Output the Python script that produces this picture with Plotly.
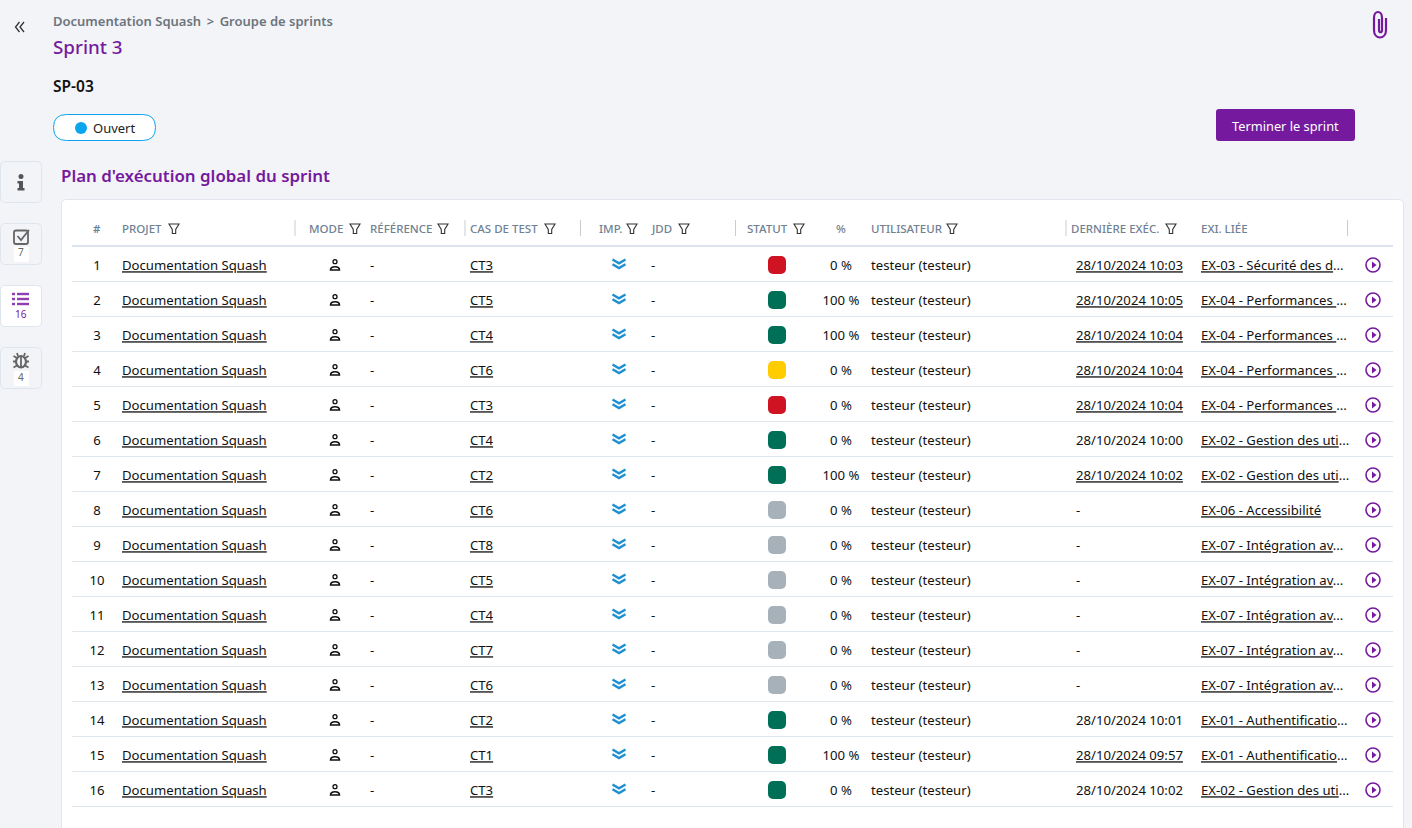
import plotly.graph_objects as go

# ---------- data ----------
ROW_NUMBERS = list(range(1, 17))
PROJECTS = ["Documentation Squash"] * 16
REFERENCES = ["-"] * 16
CASES = ["CT3", "CT5", "CT4", "CT6", "CT3", "CT4", "CT2", "CT6", "CT8", "CT5", "CT4", "CT7", "CT6", "CT2", "CT1", "CT3"]
DATASETS = ["-"] * 16
STATUSES = ["ko", "ok", "ok", "blocked", "ko", "ok", "ok", "todo", "todo", "todo", "todo", "todo", "todo", "ok", "ok", "ok"]
PERCENTS = [0, 100, 100, 0, 0, 0, 100, 0, 0, 0, 0, 0, 0, 0, 100, 0]
USERS = ["testeur (testeur)"] * 16
DATES = ["28/10/2024 10:03", "28/10/2024 10:05", "28/10/2024 10:04", "28/10/2024 10:04", "28/10/2024 10:04",
         "28/10/2024 10:00", "28/10/2024 10:02", "-", "-", "-", "-", "-", "-",
         "28/10/2024 10:01", "28/10/2024 09:57", "28/10/2024 10:02"]
DATE_LINKED = [1, 1, 1, 1, 1, 0, 1, 0, 0, 0, 0, 0, 0, 0, 1, 0]
EXIGENCES = ["EX-03 - Sécurité des d", "EX-04 - Performances ", "EX-04 - Performances ", "EX-04 - Performances ",
             "EX-04 - Performances ", "EX-02 - Gestion des uti", "EX-02 - Gestion des uti", "EX-06 - Accessibilité",
             "EX-07 - Intégration av", "EX-07 - Intégration av", "EX-07 - Intégration av", "EX-07 - Intégration av",
             "EX-07 - Intégration av", "EX-01 - Authentificatio", "EX-01 - Authentificatio", "EX-02 - Gestion des uti"]
HEADERS = ["PROJET", "MODE", "RÉFÉRENCE", "CAS DE TEST", "IMP.", "JDD", "STATUT", "UTILISATEUR", "DERNIÈRE EXÉC.", "EXI. LIÉE"]

# ---------- style / layout ----------
FONT = "Noto Sans"
PURPLE = "#751a9e"
BG = "#f3f4f8"
LINE = "#dfe7ee"
STATUS_COLORS = {"ko": "#cf1322", "ok": "#006f57", "blocked": "#ffcc00", "todo": "#a7b1ba"}
HEADER_X = [122, 309, 370, 470, 599, 651, 747, 871, 1071, 1201]
FILTER_X = [174, 355, 443, 550, 632, 684, 799, 952, 1171]
SEPARATORS_X = [294.5, 464.5, 580, 735, 1065.5, 1347]
ROW_H = 35
ROW0 = 265


def row_y(r):
    return ROW0 + ROW_H * (r - 1)


def rrect(x0, y0, x1, y1, r):
    return (f"M{x0+r},{y0} L{x1-r},{y0} Q{x1},{y0} {x1},{y0+r} L{x1},{y1-r} Q{x1},{y1} {x1-r},{y1} "
            f"L{x0+r},{y1} Q{x0},{y1} {x0},{y1-r} L{x0},{y0+r} Q{x0},{y0} {x0+r},{y0} Z")


shapes = []


def path(d, fill="rgba(0,0,0,0)", color="rgba(0,0,0,0)", width=0):
    shapes.append(dict(type="path", path=d, xref="x", yref="y", layer="below", fillcolor=fill,
                       line=dict(color=color, width=width)))


def hline(y, x0, x1, color, width=1):
    shapes.append(dict(type="line", x0=x0, x1=x1, y0=y, y1=y, xref="x", yref="y", layer="below",
                       line=dict(color=color, width=width)))


annotations = []


def label(x, y, text, size, color, weight=400, anchor="left"):
    annotations.append(dict(x=x, y=y, xref="x", yref="y", text=text, showarrow=False, xanchor=anchor, yanchor="middle",
                            xshift=-2 if anchor == "left" else 0,
                            font=dict(family=FONT, size=size, color=color, weight=weight)))


# card
path(rrect(61.5, 199.5, 1403.5, 860, 5), fill="#ffffff", color="#e1e6ee", width=1)

# chrome text
label(53, 21, "Documentation Squash \u2009&gt;\u2009 Groupe de sprints", 13, "#6c757d", 600)
label(53, 47, "Sprint 3", 18.8, PURPLE, 500)
label(53, 85.5, "SP-03", 15.5, "#111111", 600)
label(93, 128, "Ouvert", 13, "#222222")
label(61, 175.5, "Plan d'exécution global du sprint", 16.9, PURPLE, 600)
label(1285.5, 126, "Terminer le sprint", 12.8, "#ffffff", 400, "center")

# pill and button
path(rrect(53.5, 114.5, 155.5, 140.5, 13), fill="#ffffff", color="#0aa5ee", width=1)
path(rrect(1216, 109, 1355, 141, 3), fill=PURPLE)

# collapse arrows
path("M19.5,22 L15.5,27 L19.5,32 M24,22 L20,27 L24,32", color="#333333", width=1.3)
# paperclip
path("M1386,18 L1386,30 C1386,40 1374,40 1374,30 L1374,18 C1374,10 1382,10 1382,18 L1382,30 C1382,33 1379,33 1379,30 L1379,19",
     color=PURPLE, width=2.2)

# side buttons
for top, fill in ((161, BG), (223, BG), (285, "#ffffff"), (347, BG)):
    path(rrect(0.5, top + .5, 41.5, top + 41.5, 5), fill=fill, color="#dfe5ec", width=1)
for top in (247, 371):
    path(f"M14,{top} L29,{top} L29,{top+15} L14,{top+15} Z", fill="#ffffff")
# info icon
path("M17.5,181 H23 V188 H24.5 V190.5 H17.5 V188 H19 V183.5 H17.5 Z", fill="#555555")
shapes.append(dict(type="circle", x0=18.5, x1=23.5, y0=174, y1=179, xref="x", yref="y", layer="below",
                   fillcolor="#555555", line=dict(width=0)))
# check icon
path(rrect(14, 230.5, 28, 244, 2), color="#666666", width=1.8)
path("M17.5,236 L21,240 L29,230", color="#666666", width=1.8)
label(21, 252, "7", 10, "#666666", 400, "center")
# list icon
for y in (294, 299, 304):
    hline(y, 17, 29, "#8e3fb2", 2.4)
    hline(y, 12, 15, "#8e3fb2", 2.4)
label(21, 314, "16", 10, PURPLE, 400, "center")
# bug icon
shapes.append(dict(type="circle", x0=16, x1=26, y0=356, y1=367.5, xref="x", yref="y", layer="below",
                   fillcolor="rgba(0,0,0,0)", line=dict(color="#666666", width=2.2)))
path("M21,357 V367 M13,361.5 H16 M26,361.5 H29 M13.5,356 L17,358 M28.5,356 L25,358 M13.5,367.5 L17,365.5 M28.5,367.5 L25,365.5 M17,353 L18,356 M25,353 L24,356",
     color="#666666", width=1.8)
label(21, 377, "4", 10, "#666666", 400, "center")

# table header
label(97, 228.5, "#", 11.5, "#6f8193", 600, "center")
for x, text in zip(HEADER_X, HEADERS):
    label(x, 228.5, text, 11.5, "#6f8193", 500)
label(841, 228.5, "%", 11.5, "#6f8193", 500, "center")
for x in FILTER_X:
    path(f"M{x-5},224 H{x+5} L{x+1.7},229.5 V233.5 H{x-1.7} V229.5 Z", color="#333333", width=1.1)
for x in SEPARATORS_X:
    shapes.append(dict(type="line", x0=x + .5, x1=x + .5, y0=220, y1=236, xref="x", yref="y", layer="below",
                       line=dict(color="#c9cdd2", width=1)))
hline(246, 72, 1393, "#dbe4ec", 2)

# rows: separators, person body, importance chevrons
for r in ROW_NUMBERS:
    y = row_y(r)
    hline(y + 16.5, 72, 1393, LINE, 1)
    path(f"M330.5,{y+5} C330.5,{y+0.5} 339.5,{y+0.5} 339.5,{y+5} Z", color="#111111", width=1.5)
    path(f"M612.5,{y-5.5} L619,{y-1.7} L625.5,{y-5.5} M612.5,{y-0.7} L619,{y+3.1} L625.5,{y-0.7}", color="#1e90d2", width=2.4)

fig = go.Figure()
TEXT_Y = [r + 2 / ROW_H for r in ROW_NUMBERS]


def text_col(x, texts, color="#111111", pos="middle right"):
    fig.add_trace(go.Scatter(x=[x] * len(texts), y=TEXT_Y, yaxis="y2", mode="text", text=texts, textposition=pos,
                             textfont=dict(family=FONT, size=13.15, color=color), hoverinfo="skip", showlegend=False))


text_col(97, [str(r) for r in ROW_NUMBERS], pos="middle center")
text_col(122, [f"<u>{p}</u>" for p in PROJECTS])
text_col(370, REFERENCES)
text_col(470, [f"<u>{c}</u>" for c in CASES])
text_col(651, DATASETS)
text_col(841, [f"{p} %" for p in PERCENTS], pos="middle center")
text_col(871, USERS)
text_col(1076, [f"<u>{d}</u>" if u else d for d, u in zip(DATES, DATE_LINKED)])
text_col(1201, [f"<u>{e}</u>" + ("" if "Access" in e else "...") for e in EXIGENCES])

# status squares
fig.add_trace(go.Bar(x=[777] * 16, y=[18 / ROW_H] * 16, base=[r - 9 / ROW_H for r in ROW_NUMBERS], width=18, yaxis="y2",
                     marker=dict(color=[STATUS_COLORS[s] for s in STATUSES], cornerradius=5, line=dict(width=0)),
                     hoverinfo="skip", showlegend=False))
# person head
fig.add_trace(go.Scatter(x=[335] * 16, y=[r - 3.3 / ROW_H for r in ROW_NUMBERS], yaxis="y2", mode="markers",
                         marker=dict(symbol="circle-open", size=4, color="#111111", line=dict(width=1.3, color="#111111")),
                         hoverinfo="skip", showlegend=False))
# run button
fig.add_trace(go.Scatter(x=[1373] * 16, y=[r for r in ROW_NUMBERS], yaxis="y2", mode="markers",
                         marker=dict(symbol="circle-open", size=14, color=PURPLE, line=dict(width=1.6, color=PURPLE)),
                         hoverinfo="skip", showlegend=False))
fig.add_trace(go.Scatter(x=[1373.5] * 16, y=[r for r in ROW_NUMBERS], yaxis="y2", mode="markers",
                         marker=dict(symbol="triangle-right", size=6, color=PURPLE, line=dict(width=0)),
                         hoverinfo="skip", showlegend=False))
# pill dot
fig.add_trace(go.Scatter(x=[81], y=[128], mode="markers", marker=dict(size=12, color="#0aa5ee", line=dict(width=0)),
                         hoverinfo="skip", showlegend=False))

axis = dict(visible=False, showgrid=False, zeroline=False, fixedrange=True)
fig.update_layout(
    width=1412, height=828, autosize=False, margin=dict(l=0, r=0, t=0, b=0),
    paper_bgcolor=BG, plot_bgcolor=BG, barmode="overlay",
    xaxis=dict(range=[0, 1412], **axis),
    yaxis=dict(range=[828, 0], **axis),
    yaxis2=dict(range=[1 + (828 - ROW0) / ROW_H, 1 - ROW0 / ROW_H], overlaying="y", **axis),
    shapes=shapes, annotations=annotations,
)
fig.write_html("out.html", config=dict(displayModeBar=False),
               post_script="document.body.style.margin='0';document.body.style.overflow='hidden';")
